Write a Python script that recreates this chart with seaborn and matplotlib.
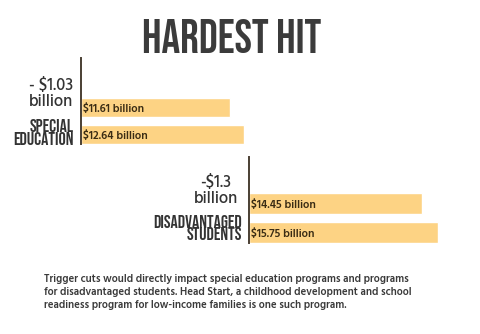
import matplotlib
matplotlib.use("Agg")
import matplotlib.pyplot as plt
import seaborn as sns
import pandas as pd

# Funding figures (billions of dollars)
sped_labels = ["$11.61 billion", "$12.64 billion"]
sped_values = [11.61, 12.64]
disadv_labels = ["$14.45 billion", "$15.75 billion"]
disadv_values = [14.45, 15.75]
sped_cut = "- $1.03\nbillion"
disadv_cut = "-$1.3\nbillion"
title = "HARDEST HIT"
note = ("Trigger cuts would directly impact special education programs and programs\n"
        "for disadvantaged students. Head Start, a childhood development and school\n"
        "readiness program for low-income families is one such program.")

W, H = 480, 334
BAR = "#fdd384"
INK = "#333333"
NARROW = ["Bebas Neue", "League Gothic", "Oswald", "Roboto Condensed", "DejaVu Sans"]
BODY = ["Hind", "Poppins", "Open Sans", "DejaVu Sans"]

sns.set_theme(style="white")
plt.rcParams["font.family"] = BODY

fig = plt.figure(figsize=(W / 100, H / 100), dpi=100)


def px_axes(left, top, width, height):
    return fig.add_axes([left / W, 1 - (top + height) / H, width / W, height / H])


def fx(x):
    return x / W


def fy(y):
    return 1 - y / H


def panel(ax, values, labels, xmax, ylim):
    df = pd.DataFrame({"item": labels, "value": values})
    sns.barplot(data=df, y="item", x="value", color=BAR, width=0.7,
                saturation=1, ax=ax, orient="h")
    ax.set_xlim(0, xmax)
    ax.set_ylim(*ylim)
    ax.set_xticks([])
    ax.set_yticks([])
    ax.set_xlabel("")
    ax.set_ylabel("")
    ax.patch.set_alpha(0)
    for side in ["top", "right", "bottom"]:
        ax.spines[side].set_visible(False)
    ax.spines["left"].set_color("#4a3f33")
    ax.spines["left"].set_linewidth(1.4)
    for i, lab in enumerate(labels):
        ax.text(0.012 * xmax, i + 0.05, lab, ha="left", va="center",
                fontsize=8.2, fontweight="semibold", color="#3a2c14",
                family=BODY)


# Special education panel
ax1 = px_axes(81, 58, 206, 86)
panel(ax1, sped_values, sped_labels, 16.0, (1.35, -1.85))

# Disadvantaged students panel
ax2 = px_axes(249, 157, 206, 86)
panel(ax2, disadv_values, disadv_labels, 17.2, (1.36, -1.6))

fig.text(fx(232), fy(53), title, ha="center", va="baseline",
         fontsize=33.5, color="#3b3b3b", family=NARROW)

fig.text(fx(51), fy(106), sped_cut, ha="center", va="baseline",
         multialignment="center", fontsize=12, fontweight="medium", color=INK,
         linespacing=1.05, family=BODY)
fig.text(fx(74), fy(144.5), "SPECIAL\nEDUCATION", ha="right", va="baseline",
         multialignment="right", fontsize=13, color=INK,
         linespacing=0.95, family=NARROW)

fig.text(fx(216), fy(203), disadv_cut, ha="center", va="baseline",
         multialignment="center", fontsize=12, fontweight="medium", color=INK,
         linespacing=1.05, family=BODY)
fig.text(fx(242), fy(240.5), "DISADVANTAGED\nSTUDENTS", ha="right", va="baseline",
         multialignment="right", fontsize=13, color=INK,
         linespacing=0.95, family=NARROW)

fig.text(fx(44), fy(307.5), note, ha="left", va="baseline",
         fontsize=7.75, fontweight="semibold", color="#3a3a3a",
         linespacing=1.35, family=BODY)

fig.savefig("out.png", dpi=100)
